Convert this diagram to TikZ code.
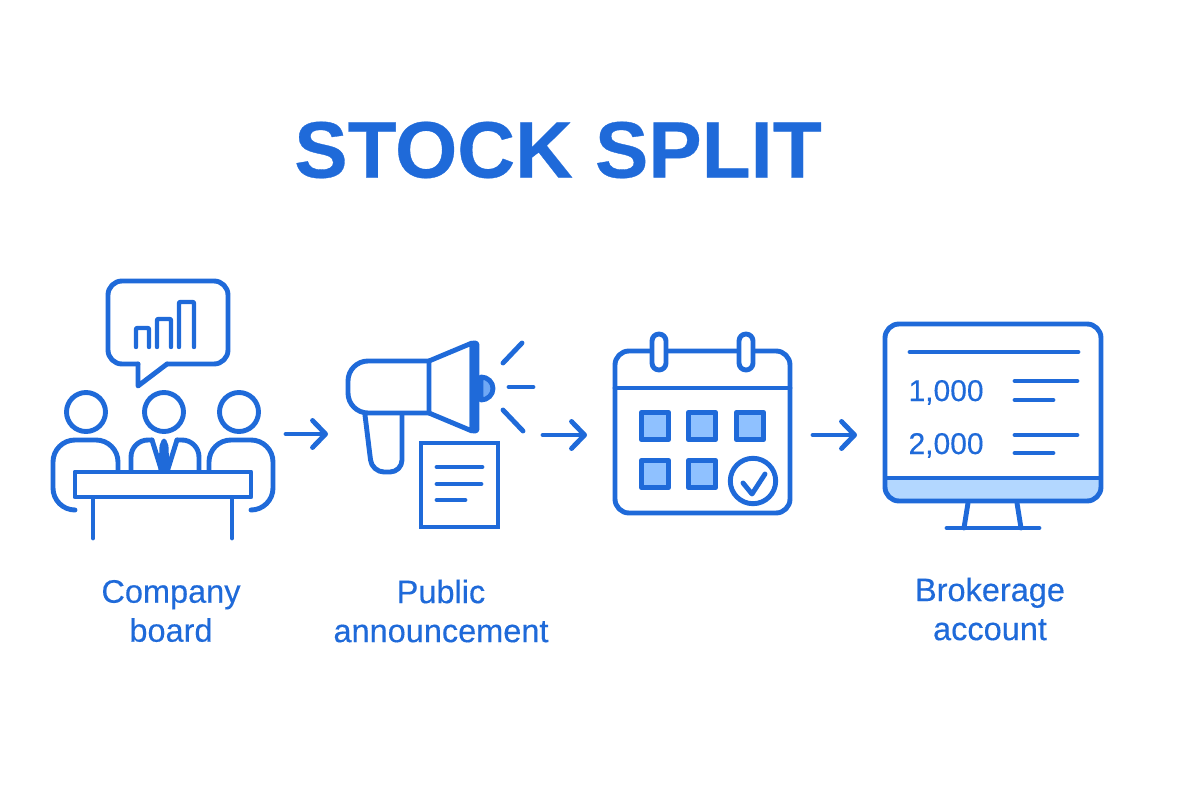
\documentclass[tikz,border=0pt]{standalone}
\usepackage{fontspec}
\setmainfont{Liberation Sans}
\newfontfamily\labelfont[FakeBold=0.35]{Liberation Sans}
\newfontfamily\titlefont[BoldFeatures={FakeBold=0.4}]{Liberation Sans}
\usetikzlibrary{arrows.meta}
\definecolor{iconblue}{HTML}{1F6AD9}
\definecolor{midblue}{HTML}{6FA8F5}
\definecolor{paleblue}{HTML}{8FC1FF}
\definecolor{bandblue}{HTML}{B3D7FF}
\tikzset{
    icon/.style = {draw = iconblue, line width = 4.9pt, line join = round, line cap = round},
    thinicon/.style = {icon, line width = 4.4pt},
    cell/.style = {draw = iconblue, fill = paleblue, line width = 5.5pt, line join = round},
    flow/.style = {icon, -{Straight Barb[round, length = 13pt, width = 27pt]}},
    caption/.style = {text = iconblue, align = center, font = \labelfont\fontsize{32.5}{39}\selectfont},
    amount/.style = {text = iconblue, anchor = base west, font = \labelfont\fontsize{30}{36}\selectfont}
}
\begin{document}
\begin{tikzpicture}[x = 1pt, y = -1pt]
    \useasboundingbox (0,0) rectangle (1200,800);
    \node[text = iconblue, font = \titlefont\fontsize{80}{90}\bfseries\selectfont] (title) at (558,150) {STOCK SPLIT};
    % board
    \draw[icon, rounded corners = 14pt] (138,364) -- (108,364) -- (108,281) -- (228,281) -- (228,364) -- (167,364);
    \draw[icon] (167,364) -- (138,386) -- (138,364);
    \draw[thinicon, rounded corners = 1pt] (136,347) -- (136,328) -- (149,328) -- (149,347);
    \draw[thinicon, rounded corners = 1pt] (157,347) -- (157,319) -- (171,319) -- (171,347);
    \draw[thinicon, rounded corners = 1pt] (179,347) -- (179,302) -- (194,302) -- (194,347);
    \draw[icon] (86,412) circle (19.5);
    \draw[icon] (164,412) circle (19.5);
    \draw[icon] (239,412) circle (19.5);
    \draw[icon, rounded corners = 22pt] (73,510) -- (53,510) -- (53,440) -- (118,440) -- (118,472);
    \draw[icon, rounded corners = 22pt] (253,510) -- (273,510) -- (273,440) -- (209,440) -- (209,472);
    \draw[icon, rounded corners = 17pt] (131,472) -- (131,440) -- (152,440);
    \draw[icon, rounded corners = 17pt] (199,472) -- (199,440) -- (177,440);
    \draw[icon] (152,440) -- (162,472);
    \draw[icon] (177,440) -- (167,472);
    \draw[icon, fill = iconblue] (164,441) -- (162,446) -- (161,470) -- (167,470) -- (166,446) -- cycle;
    \draw[icon] (93,497) -- (93,538);
    \draw[icon] (232,497) -- (232,538);
    \draw[icon, fill = white] (75,472) rectangle (251,497);
    % megaphone
    \draw[icon, fill = midblue] (481,377) arc (-90:90:12 and 11.5) -- cycle;
    \draw[icon, rounded corners = 20pt] (429,361) -- (348,361) -- (348,413) -- (429,413);
    \draw[icon] (429,361) -- (429,413) -- (472,431) -- (472,343) -- cycle;
    \draw[icon, fill = midblue, rounded corners = 2pt] (472,343) -- (477,343) -- (477,431) -- (472,431) -- cycle;
    \draw[icon] (522,343) -- (503,363);
    \draw[icon] (509,387) -- (533,387);
    \draw[icon] (503,410) -- (523,431);
    \draw[icon, rounded corners = 12pt] (365,415) -- (372,472) -- (402,472) -- (402,415);
    \draw[icon, fill = white, line cap = butt, line join = miter] (421,443) rectangle (498,527);
    \draw[icon] (437,467) -- (482,467);
    \draw[icon] (437,484) -- (481,484);
    \draw[icon] (437,500) -- (465,500);
    % calendar
    \draw[icon, rounded corners = 14pt] (615,351) rectangle (790,513);
    \draw[icon] (615,388) -- (790,388);
    \draw[icon, fill = white, rounded corners = 7pt] (652,334) rectangle (666,370);
    \draw[icon, fill = white, rounded corners = 7pt] (739,334) rectangle (753,370);
    \foreach \xcell in {655,702,750} {
        \draw[cell] (\xcell-13.5,412.5) rectangle (\xcell+13.5,439.5);
    }
    \foreach \xcell in {655,702} {
        \draw[cell] (\xcell-13.5,460.5) rectangle (\xcell+13.5,487.5);
    }
    \draw[icon, fill = white] (753,481) circle (22.7);
    \draw[icon] (743,483) -- (752,494) -- (765,474);
    % monitor
    \fill[bandblue, rounded corners = 14pt] (885,440) rectangle (1101,501);
    \fill[white] (885,430) rectangle (1101,478);
    \draw[icon, rounded corners = 14pt] (885,324) rectangle (1101,501);
    \draw[icon, line cap = butt] (885,478) -- (1101,478);
    \draw[icon] (910,352) -- (1078,352);
    \node[amount] (shares) at (905,401) {1,000};
    \node[amount] (sharesafter) at (905,454) {2,000};
    \draw[icon] (1015,381) -- (1077,381);
    \draw[icon] (1015,400) -- (1053,400);
    \draw[icon] (1015,435) -- (1077,435);
    \draw[icon] (1015,453) -- (1053,453);
    \draw[icon] (968,503) -- (964,528);
    \draw[icon] (1017,503) -- (1021,528);
    \draw[icon] (947,528) -- (1039,528);
    % arrows
    \coordinate (boardout) at (286,434);
    \coordinate (megain) at (328,434);
    \coordinate (megaout) at (543,435);
    \coordinate (calin) at (587,435);
    \coordinate (calout) at (813,435);
    \coordinate (moniin) at (857,435);
    \draw[flow] (boardout) -- (megain);
    \draw[flow] (megaout) -- (calin);
    \draw[flow] (calout) -- (moniin);
    % captions
    \node[caption] (boardtext) at (171,611) {Company\\board};
    \node[caption] (publictext) at (441,611) {Public\\announcement};
    \node[caption] (brokertext) at (990,609) {Brokerage\\account};
\end{tikzpicture}
\end{document}
